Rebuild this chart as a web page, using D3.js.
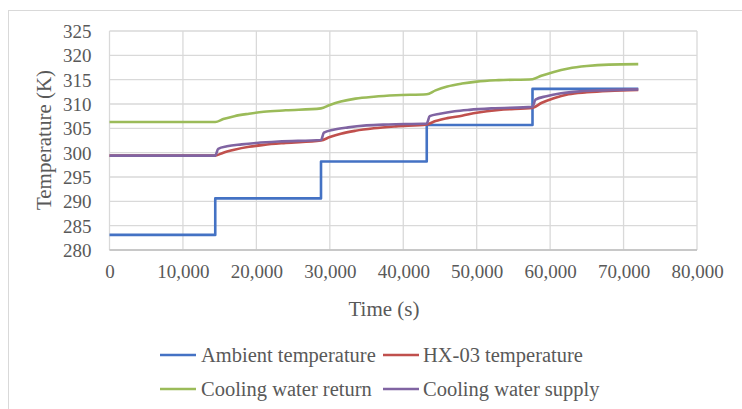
<!DOCTYPE html>
<html>
<head>
<meta charset="utf-8">
<script src="https://cdn.jsdelivr.net/npm/d3@7"></script>
<style>
  html, body { margin: 0; padding: 0; background: #fff; }
  svg { display: block; }
  text { font-family: "Liberation Serif", "Times New Roman", serif; fill: #595959; }
</style>
</head>
<body>
<svg id="chart" width="742" height="409"></svg>
<script>
// ---- Data ----
const xTicks = [0, 10000, 20000, 30000, 40000, 50000, 60000, 70000, 80000];
const yTicks = [280, 285, 290, 295, 300, 305, 310, 315, 320, 325];

const ambientTime = [0, 14400, 28800, 43200, 57600, 72000];
const ambientTemp = [283.1, 290.6, 298.2, 305.7, 313.1, 313.1];

const hxTime = [0, 14400, 15500, 17000, 19000, 21000, 24000, 28800, 30000, 31500, 33500, 36000, 39000, 43200, 44400, 46000, 48000, 50000, 53000, 57600, 58800, 60500, 62500, 65000, 68000, 72000];
const hxTemp = [299.4, 299.4, 300.0, 300.6, 301.2, 301.6, 302.0, 302.5, 303.2, 303.9, 304.5, 305.0, 305.4, 305.8, 306.5, 307.1, 307.6, 308.2, 308.8, 309.2, 310.2, 311.2, 312.0, 312.4, 312.7, 312.9];

const returnTime = [0, 14400, 15500, 17000, 19000, 21000, 24000, 28800, 30000, 31500, 33500, 36000, 39000, 43200, 44400, 46000, 48000, 50000, 53000, 57600, 58800, 60500, 62500, 65000, 68000, 72000];
const returnTemp = [306.3, 306.3, 306.9, 307.5, 308.0, 308.4, 308.7, 309.1, 309.8, 310.5, 311.1, 311.5, 311.8, 312.0, 312.8, 313.6, 314.2, 314.6, 314.9, 315.1, 315.8, 316.6, 317.3, 317.8, 318.1, 318.2];

const supplyTime = [0, 14400, 14800, 16000, 18000, 20000, 23000, 28800, 29200, 30500, 32500, 35000, 38000, 43200, 43600, 45000, 47000, 49000, 52000, 57600, 58000, 59500, 61500, 64000, 67000, 72000];
const supplyTemp = [299.4, 299.4, 300.8, 301.3, 301.7, 302.0, 302.3, 302.6, 304.1, 304.7, 305.2, 305.6, 305.8, 306.0, 307.5, 308.0, 308.5, 308.8, 309.1, 309.4, 310.9, 311.6, 312.2, 312.6, 312.8, 313.0];

const seriesNames = ["Ambient temperature", "HX-03 temperature", "Cooling water return", "Cooling water supply"];
const seriesColors = ["#4472C4", "#C0504D", "#9BBB59", "#8064A2"];

// ---- Layout ----
const svg = d3.select("#chart");
const plot = { left: 109.5, right: 697, top: 31, bottom: 250 };

const x = d3.scaleLinear().domain([0, 80000]).range([plot.left, plot.right]);
const y = d3.scaleLinear().domain([280, 325]).range([plot.bottom, plot.top]);

// outer chart border
svg.append("rect")
  .attr("x", 8.5).attr("y", 10.5)
  .attr("width", 760).attr("height", 420)
  .attr("fill", "none").attr("stroke", "#d9d9d9").attr("stroke-width", 1);

// gridlines
const grid = svg.append("g");
grid.selectAll("line.h").data(yTicks).enter().append("line")
  .attr("x1", plot.left).attr("x2", plot.right)
  .attr("y1", d => y(d)).attr("y2", d => y(d))
  .attr("stroke", "#d9d9d9").attr("stroke-width", 1.3);
grid.selectAll("line.v").data(xTicks).enter().append("line")
  .attr("y1", plot.top).attr("y2", plot.bottom)
  .attr("x1", d => x(d)).attr("x2", d => x(d))
  .attr("stroke", "#d9d9d9").attr("stroke-width", 1.3);
// bottom axis line
svg.append("line")
  .attr("x1", plot.left).attr("x2", plot.right)
  .attr("y1", plot.bottom).attr("y2", plot.bottom)
  .attr("stroke", "#bfbfbf").attr("stroke-width", 1.3);

// axes (labels only)
const fmt = d3.format(",");
const xAxis = d3.axisBottom(x).tickValues(xTicks).tickFormat(d => fmt(d)).tickSize(0).tickPadding(0);
const gx = svg.append("g").attr("transform", `translate(0,${plot.bottom})`).call(xAxis);
gx.select(".domain").remove();
gx.selectAll("text").attr("font-size", 19).attr("fill", "#595959")
  .attr("font-family", "Liberation Serif").attr("dy", null).attr("y", 28);

const yAxis = d3.axisLeft(y).tickValues(yTicks).tickSize(0).tickPadding(0);
const gy = svg.append("g").attr("transform", `translate(${plot.left},0)`).call(yAxis);
gy.select(".domain").remove();
gy.selectAll("text").attr("font-size", 19).attr("fill", "#595959")
  .attr("font-family", "Liberation Serif").attr("x", -18).attr("dy", "0.34em");

// axis titles
svg.append("text")
  .attr("transform", `translate(51,140) rotate(-90)`)
  .attr("text-anchor", "middle").attr("font-size", 21)
  .text("Temperature (K)");
svg.append("text")
  .attr("x", 384).attr("y", 316)
  .attr("text-anchor", "middle").attr("font-size", 21)
  .text("Time (s)");

// series
const lineSmooth = d3.line().x(d => x(d[0])).y(d => y(d[1])).curve(d3.curveMonotoneX);
const lineStep = d3.line().x(d => x(d[0])).y(d => y(d[1])).curve(d3.curveStepAfter);

const series = [
  { pts: d3.zip(ambientTime, ambientTemp), gen: lineStep },
  { pts: d3.zip(hxTime, hxTemp), gen: lineSmooth },
  { pts: d3.zip(returnTime, returnTemp), gen: lineSmooth },
  { pts: d3.zip(supplyTime, supplyTemp), gen: lineSmooth }
];
series.forEach((s, i) => {
  svg.append("path")
    .attr("d", s.gen(s.pts))
    .attr("fill", "none")
    .attr("stroke", seriesColors[i])
    .attr("stroke-width", 2.6)
    .attr("stroke-linejoin", "round");
});

// legend
const legendPos = [
  { sx: 160, tx: 201, y: 355 },
  { sx: 383, tx: 423, y: 355 },
  { sx: 160, tx: 201, y: 389 },
  { sx: 383, tx: 423, y: 389 }
];
const lg = svg.append("g");
seriesNames.forEach((name, i) => {
  const p = legendPos[i];
  lg.append("line")
    .attr("x1", p.sx).attr("x2", p.sx + 36)
    .attr("y1", p.y).attr("y2", p.y)
    .attr("stroke", seriesColors[i]).attr("stroke-width", 2.6);
  lg.append("text")
    .attr("x", p.tx).attr("y", p.y).attr("dy", "0.33em")
    .attr("font-size", 20.5)
    .text(name);
});
</script>
</body>
</html>
